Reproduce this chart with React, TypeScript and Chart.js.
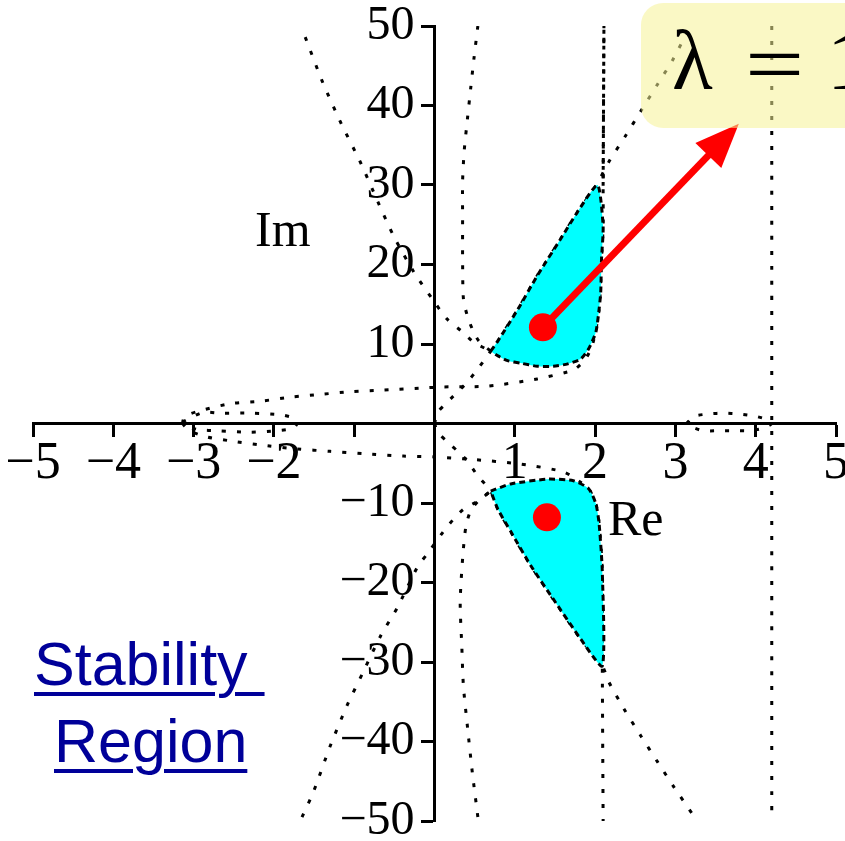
import React, { useEffect, useRef } from 'react';
import { Chart, registerables } from 'chart.js';

Chart.register(...registerables);

// Axis ranges and ticks
const X_RANGE = [-5, 5];
const Y_RANGE = [-50, 50];
const X_STEP = 1;
const Y_STEP = 10;
// tick values left without a printed label
const X_UNLABELLED = [0, -1];
const Y_UNLABELLED = [0];

// Boundary curves of the stability region, as [Re, Im] pairs
const upperLeftBranch = [[-1.61, 48.6], [-1.40, 43.1], [-1.17, 37.9], [-0.92, 32.8], [-0.71, 28.0], [-0.51, 23.6], [-0.26, 19.1], [-0.03, 15.7], [0.16, 13.1], [0.35, 11.5], [0.49, 10.2], [0.70, 9.1]];
const lowerLeftBranch = [[-1.65, -49.5], [-1.51, -46.4], [-1.30, -40.6], [-1.09, -35.5], [-0.89, -31.3], [-0.67, -26.7], [-0.46, -23.1], [-0.21, -18.0], [-0.09, -16.4], [0.11, -13.6], [0.24, -12.0], [0.36, -10.8], [0.55, -9.7], [0.70, -8.5]];
const upperInnerBranch = [[0.54, 50], [0.49, 45.8], [0.45, 42.1], [0.41, 38.3], [0.37, 34.3], [0.35, 30.5], [0.35, 25.7], [0.35, 20.7], [0.36, 15.7], [0.41, 13.5], [0.47, 11.9], [0.55, 10.4], [0.70, 9.1]];
const lowerInnerBranch = [[0.54, -49.5], [0.47, -43.8], [0.41, -38.1], [0.36, -33.0], [0.34, -28.0], [0.32, -22.5], [0.35, -17.0], [0.39, -13.0], [0.45, -11.0], [0.55, -9.7], [0.70, -8.5]];
const upperDiagonal = [[0, 0], [0.04, 1.4], [0.11, 2.2], [0.24, 3.5], [0.39, 5.0], [0.55, 7.0], [0.70, 9.1], [0.79, 10.4], [1.04, 14.4], [1.28, 18.6], [1.57, 23.2], [1.78, 26.6], [2.01, 29.9], [2.17, 32.9], [2.38, 36.2], [2.57, 39.3], [2.78, 42.7], [2.97, 45.8], [3.18, 49.9]];
const lowerDiagonal = [[0, 0], [0.04, -1.1], [0.16, -2.3], [0.29, -3.5], [0.40, -4.6], [0.54, -6.6], [0.70, -8.5], [0.79, -10.8], [0.95, -13.6], [1.20, -17.9], [1.48, -22.1], [1.82, -27.1], [2.09, -30.5], [2.17, -32.5], [2.36, -35.9], [2.57, -39.3], [2.78, -42.6], [2.98, -45.7], [3.21, -49.1]];
const upperOuterBranch = [[-3.14, 0], [-3.11, 0.9], [-2.92, 1.6], [-2.54, 2.5], [-2.17, 2.8], [-1.80, 3.3], [-1.38, 3.7], [-1.05, 4.0], [-0.64, 4.2], [-0.09, 4.5], [0.11, 4.6], [0.66, 4.7], [1.28, 5.6], [1.66, 6.5], [1.76, 6.9], [1.88, 8.1], [1.97, 10.0], [2.05, 14.4], [2.08, 20.7], [2.10, 24.8], [2.10, 29.9], [2.11, 50]];
const upperRightEdge = [[2.10, 29.9], [2.11, 50]];
const lowerOuterBranch = [[-3.14, 0], [-3.05, -0.9], [-2.83, -1.7], [-2.46, -2.3], [-2.08, -2.8], [-1.71, -3.2], [-1.30, -3.5], [-0.89, -3.8], [-0.39, -4.1], [-0.01, -4.2], [0.45, -4.5], [1.07, -5.1], [1.61, -6.1], [1.82, -7.4], [1.92, -8.2], [2.01, -10.1], [2.05, -12.6], [2.09, -18.7], [2.09, -30.5], [2.10, -50]];
const leftLoop = [[-3.14, 0.2], [-2.88, 1.4], [-2.67, 1.3], [-2.29, 1.3], [-1.92, 1.1], [-1.73, 0.6], [-1.71, 0], [-1.76, -0.6], [-1.96, -0.9], [-2.29, -1.1], [-2.71, -0.9], [-2.92, -0.8], [-3.11, -0.3], [-3.14, 0.2]];
const rightLoop = [[3.14, 0], [3.23, 0.9], [3.42, 1.2], [3.60, 1.3], [3.79, 1.2], [4.00, 0.9], [4.17, 0.4], [4.20, 0], [4.09, -0.6], [3.92, -0.9], [3.72, -0.9], [3.53, -0.9], [3.34, -0.9], [3.17, -0.3], [3.14, 0]];
const verticalAsymptote = [[4.20, 50], [4.20, -50]];

// Shaded stable regions (closed outlines)
const upperRegion = [[0.70, 9.1], [0.79, 10.4], [1.04, 14.4], [1.28, 18.6], [1.57, 23.2], [1.78, 26.6], [2.03, 30.0], [2.10, 24.8], [2.08, 20.7], [2.07, 16.5], [2.05, 14.4], [2.01, 11.5], [1.92, 9.4], [1.82, 8.1], [1.66, 7.5], [1.48, 7.2], [1.28, 7.2], [1.07, 7.6], [0.91, 7.9], [0.79, 8.5], [0.70, 9.1]];
const lowerRegion = [[0.70, -8.5], [0.95, -7.6], [1.41, -7.0], [1.73, -7.2], [1.92, -8.2], [2.01, -10.1], [2.05, -12.6], [2.09, -18.7], [2.09, -30.5], [1.82, -27.1], [1.48, -22.1], [1.20, -17.9], [0.95, -13.6], [0.79, -10.8], [0.70, -8.5]];

// Eigenvalue pair and the arrow pointing to the label
const eigenvalues = [[1.35, 12.1], [1.40, -11.8]];
const arrowFrom = [1.35, 12.1];
const arrowTo = [3.79, 37.7];

const toPoints = (a: number[][]) => a.map(([x, y]) => ({ x, y }));

const SERIF = '"Liberation Serif", "Times New Roman", serif';

const dotted = (pairs: number[][], dash: number[] = [4, 11]) => ({
  data: toPoints(pairs),
  showLine: true,
  pointRadius: 0,
  borderColor: '#000',
  borderWidth: 3,
  borderDash: dash,
  tension: 0.25,
  fill: false,
});

const region = (pairs: number[][]) => ({
  data: toPoints(pairs),
  showLine: true,
  pointRadius: 0,
  borderColor: '#000',
  borderWidth: 3,
  borderDash: [6, 4],
  backgroundColor: '#00ffff',
  tension: 0.2,
  fill: 'shape',
});

const signed = (n: number) => (n < 0 ? '\u2212' + Math.abs(n) : String(n));
const xTickLabel = (v: number | string) => (X_UNLABELLED.includes(Number(v)) ? '' : signed(Number(v)));
// right-aligned labels on the centred y axis: trailing spaces keep them clear of the tick marks
const yTickLabel = (v: number | string) => (Y_UNLABELLED.includes(Number(v)) ? '' : signed(Number(v)) + '\u2005\u2006');

const arrowPlugin = {
  id: 'eigenArrow',
  afterDatasetsDraw(chart: any) {
    const { ctx, scales } = chart;
    const x0 = scales.x.getPixelForValue(arrowFrom[0]);
    const y0 = scales.y.getPixelForValue(arrowFrom[1]);
    const x1 = scales.x.getPixelForValue(arrowTo[0]);
    const y1 = scales.y.getPixelForValue(arrowTo[1]);
    const ang = Math.atan2(y1 - y0, x1 - x0);
    const headLen = 44;
    const headHalf = 18;
    const bx = x1 - headLen * Math.cos(ang);
    const by = y1 - headLen * Math.sin(ang);
    ctx.save();
    ctx.strokeStyle = '#ff0000';
    ctx.fillStyle = '#ff0000';
    ctx.lineWidth = 7;
    ctx.beginPath();
    ctx.moveTo(x0, y0);
    ctx.lineTo(bx + 4 * Math.cos(ang), by + 4 * Math.sin(ang));
    ctx.stroke();
    ctx.beginPath();
    ctx.moveTo(x1, y1);
    ctx.lineTo(bx - headHalf * Math.sin(ang), by + headHalf * Math.cos(ang));
    ctx.lineTo(bx + headHalf * Math.sin(ang), by - headHalf * Math.cos(ang));
    ctx.closePath();
    ctx.fill();
    ctx.restore();
  },
};

export default function App() {
  const ref = useRef<HTMLCanvasElement | null>(null);

  useEffect(() => {
    document.body.style.margin = '0';
    const canvas = ref.current;
    if (!canvas) return;
    const gridOpts = { drawOnChartArea: false, drawTicks: true, tickLength: 12, tickWidth: 3, tickColor: '#000' };
    const borderOpts = { display: true, color: '#000', width: 3 };
    const chart = new Chart(canvas, {
      type: 'scatter',
      data: {
        datasets: [
          {
            data: toPoints(eigenvalues),
            pointRadius: 14,
            pointHoverRadius: 14,
            backgroundColor: '#ff0000',
            borderWidth: 0,
            showLine: false,
          } as any,
          region(upperRegion),
          region(lowerRegion),
          dotted(upperRightEdge, [4, 4]),
          dotted(upperLeftBranch),
          dotted(lowerLeftBranch),
          dotted(upperInnerBranch),
          dotted(lowerInnerBranch),
          dotted(upperDiagonal),
          dotted(lowerDiagonal),
          dotted(upperOuterBranch),
          dotted(lowerOuterBranch),
          dotted(leftLoop),
          dotted(rightLoop),
          dotted(verticalAsymptote),
        ],
      },
      options: {
        responsive: false,
        animation: false,
        devicePixelRatio: 1,
        layout: { padding: { left: 33, top: 36, right: 34, bottom: 40 } },
        plugins: { legend: { display: false }, tooltip: { enabled: false } },
        scales: {
          x: {
            type: 'linear',
            min: X_RANGE[0],
            max: X_RANGE[1],
            position: { y: 0 },
            ticks: {
              stepSize: X_STEP,
              autoSkip: false,
              maxRotation: 0,
              color: '#000',
              font: { family: SERIF, size: 52, lineHeight: 1.1 },
              padding: 0,
              callback: xTickLabel,
            },
            grid: gridOpts,
            border: borderOpts,
          },
          y: {
            type: 'linear',
            min: Y_RANGE[0],
            max: Y_RANGE[1],
            position: { x: 0 },
            ticks: {
              stepSize: Y_STEP,
              autoSkip: false,
              color: '#000',
              font: { family: SERIF, size: 48, lineHeight: 1.15 },
              callback: yTickLabel,
            },
            grid: gridOpts,
            border: borderOpts,
          },
        },
      } as any,
      plugins: [arrowPlugin],
    });
    return () => chart.destroy();
  }, []);

  const serifLabel: React.CSSProperties = {
    position: 'absolute',
    fontFamily: SERIF,
    fontSize: 50,
    lineHeight: 1,
    color: '#000',
    whiteSpace: 'nowrap',
  };
  const linkText: React.CSSProperties = {
    position: 'absolute',
    fontFamily: '"Liberation Sans", Arial, sans-serif',
    fontSize: 61,
    lineHeight: 1,
    color: '#000099',
    textDecoration: 'underline',
    textDecorationThickness: '4px',
    textUnderlineOffset: '7px',
    whiteSpace: 'nowrap',
  };
  const bigSerif: React.CSSProperties = {
    position: 'absolute',
    fontFamily: SERIF,
    fontSize: 84,
    lineHeight: 1,
    color: '#000',
  };

  return (
    <div style={{ position: 'relative', width: 845, height: 841, overflow: 'hidden', background: '#fff' }}>
      <canvas ref={ref} width={870} height={871} style={{ position: 'absolute', left: 0, top: -10 }} />
      <div style={{ ...serifLabel, left: 255, top: 204 }}>Im</div>
      <div style={{ ...serifLabel, left: 608, top: 493 }}>Re</div>
      <div style={{ ...linkText, left: 34, top: 634 }}>Stability&nbsp;</div>
      <div style={{ ...linkText, left: 54, top: 711 }}>Region</div>
      <div
        style={{
          position: 'absolute',
          left: 641,
          top: 3,
          width: 260,
          height: 125,
          borderRadius: 22,
          background: 'rgba(246, 242, 150, 0.55)',
        }}
      >
        <span style={{ ...bigSerif, left: 31, top: 16 }}>λ</span>
        <span style={{ ...bigSerif, left: 104, top: 20, transform: 'scaleX(1.25)', transformOrigin: 'left' }}>=</span>
        <span style={{ ...bigSerif, left: 186, top: 16 }}>1</span>
      </div>
    </div>
  );
}
